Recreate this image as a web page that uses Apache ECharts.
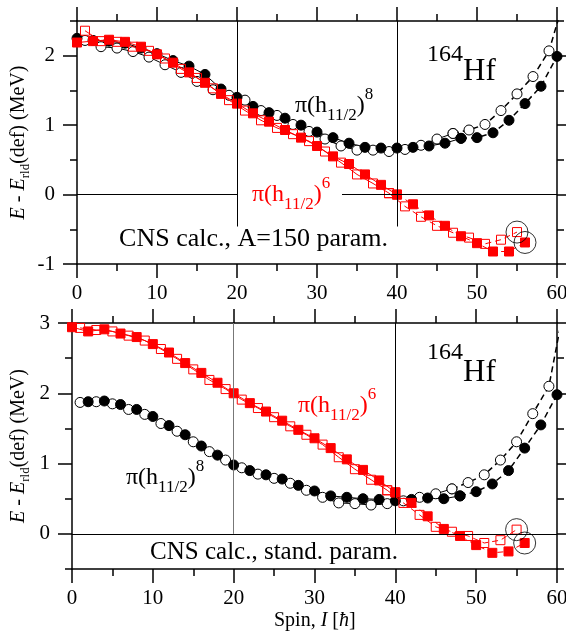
<!DOCTYPE html>
<html>
<head>
<meta charset="utf-8">
<script src="https://cdn.jsdelivr.net/npm/echarts@6/dist/echarts.min.js"></script>
<style>
  html, body { margin: 0; background: #fff; }
  #chart { width: 566px; height: 633px; }
</style>
</head>
<body>
<div id="chart"></div>
<script>
// spins (hbar)
const evenSpins = [0, 2, 4, 6, 8, 10, 12, 14, 16, 18, 20, 22, 24, 26, 28, 30, 32, 34, 36, 38, 40, 42, 44, 46, 48, 50, 52, 54, 56, 58, 60];
const oddSpins = [1, 3, 5, 7, 9, 11, 13, 15, 17, 19, 21, 23, 25, 27, 29, 31, 33, 35, 37, 39, 41, 43, 45, 47, 49, 51, 53, 55, 57, 59, 61];

// top panel: CNS calc., A=150 param.  (MeV)
const topBlackEven = [2.25, 2.22, 2.21, 2.18, 2.11, 2.03, 1.93, 1.85, 1.73, 1.52, 1.40, 1.27, 1.18, 1.10, 1.00, 0.90, 0.82, 0.74, 0.68, 0.67, 0.67, 0.68, 0.70, 0.74, 0.81, 0.82, 0.89, 1.07, 1.31, 1.56, 1.99];
const topBlackOdd = [2.22, 2.13, 2.11, 2.06, 1.98, 1.87, 1.76, 1.63, 1.51, 1.43, 1.36, 1.21, 1.14, 1.01, 0.91, 0.80, 0.70, 0.64, 0.64, 0.62, 0.65, 0.71, 0.80, 0.88, 0.93, 1.01, 1.21, 1.45, 1.70, 2.07, 2.85];
const topRedEven = [2.19, 2.21, 2.23, 2.20, 2.13, 2.02, 1.90, 1.76, 1.61, 1.45, 1.31, 1.17, 1.05, 0.93, 0.82, 0.70, 0.55, 0.44, 0.29, 0.14, 0.00, -0.14, -0.30, -0.45, -0.60, -0.70, -0.82, -0.82, -0.69];
const topRedOdd = [2.36, 2.21, 2.20, 2.13, 2.07, 1.96, 1.81, 1.68, 1.53, 1.36, 1.21, 1.07, 0.96, 0.87, 0.77, 0.62, 0.46, 0.29, 0.16, 0.02, -0.17, -0.32, -0.45, -0.55, -0.62, -0.71, -0.65, -0.54];

// bottom panel: CNS calc., stand. param.  (MeV)
const botBlackEven = [1.88, 1.89, 1.84, 1.77, 1.67, 1.54, 1.41, 1.25, 1.12, 0.98, 0.90, 0.84, 0.78, 0.69, 0.61, 0.54, 0.52, 0.50, 0.49, 0.47, 0.49, 0.51, 0.50, 0.54, 0.60, 0.71, 0.90, 1.22, 1.55, 1.98];
const botBlackOdd = [1.87, 1.88, 1.85, 1.77, 1.70, 1.57, 1.46, 1.31, 1.17, 1.05, 0.94, 0.85, 0.79, 0.72, 0.62, 0.52, 0.44, 0.43, 0.41, 0.43, 0.47, 0.52, 0.57, 0.64, 0.73, 0.84, 1.05, 1.31, 1.71, 2.10, 3.30];
const botRedEven = [2.94, 2.88, 2.91, 2.85, 2.80, 2.70, 2.58, 2.43, 2.29, 2.15, 2.00, 1.86, 1.74, 1.61, 1.48, 1.36, 1.22, 1.06, 0.91, 0.76, 0.59, 0.44, 0.25, 0.07, -0.03, -0.16, -0.27, -0.25, -0.13];
const botRedOdd = [2.93, 2.90, 2.88, 2.82, 2.75, 2.63, 2.49, 2.34, 2.19, 2.06, 1.91, 1.79, 1.66, 1.53, 1.41, 1.27, 1.09, 0.92, 0.77, 0.62, 0.44, 0.27, 0.10, 0.03, -0.03, -0.13, -0.09, 0.06];

const xTicks = [0, 60, 10];
const yRanges = [[-1, 2.5], [-0.5, 3]];
const yMajors = [[-1, 0, 1, 2], [0, 1, 2, 3]];
const circledSpins = [55, 56];

const family = "Liberation Serif";
const RED = "#ff0000";
const AXIS_W = 1.5;

function pairs(spins, values) {
  return values.map((v, i) => [spins[i], v]);
}

const looks = {
  blackFilled: { symbol: "circle", size: 10, line: "#000", fill: "#000", z: 3 },
  blackOpen: { symbol: "circle", size: 10, line: "#000", fill: "#fff", z: 3 },
  redFilled: { symbol: "rect", size: 9, line: RED, fill: RED, z: 4 },
  redOpen: { symbol: "rect", size: 9, line: RED, fill: "rgba(255,255,255,0)", z: 4 },
};

// one signature: solid up to `cut`, dashed afterwards
function track(g, data, look, cut, dashWidth) {
  const solid = data.filter((d) => d[0] <= cut);
  const tail = data.filter((d) => d[0] >= solid[solid.length - 1][0]);
  const common = {
    type: "line",
    xAxisIndex: 2 * g,
    yAxisIndex: 4 * g,
    symbol: look.symbol,
    symbolSize: look.size,
    showSymbol: true,
    clip: true,
    silent: true,
    z: look.z,
    itemStyle: { color: look.fill, borderColor: look.line, borderWidth: 1 },
  };
  return [
    { ...common, data: solid, lineStyle: { color: look.line, width: 1 } },
    { ...common, data: tail, lineStyle: { color: look.line, width: dashWidth, type: [6, 4] } },
  ];
}

function guides(g, lines) {
  return {
    type: "line",
    xAxisIndex: 2 * g,
    yAxisIndex: 4 * g,
    data: [],
    z: 1,
    markLine: {
      silent: true,
      symbol: ["none", "none"],
      label: { show: false },
      lineStyle: { color: "#000", width: 1, type: "solid" },
      data: lines,
    },
  };
}

function circled(g, redOdd, redEven) {
  const pts = redOdd.concat(redEven).filter((d) => circledSpins.includes(d[0]));
  return {
    type: "scatter",
    xAxisIndex: 2 * g,
    yAxisIndex: 4 * g,
    data: pts,
    symbol: "circle",
    symbolSize: 22,
    silent: true,
    z: 5,
    itemStyle: { color: "rgba(0,0,0,0)", borderColor: "#000", borderWidth: 1 },
  };
}

function xAxes(g) {
  const base = {
    type: "value",
    gridIndex: g,
    min: xTicks[0],
    max: xTicks[1],
    interval: xTicks[2],
    splitLine: { show: false },
    axisLine: { onZero: false, lineStyle: { color: "#000", width: AXIS_W } },
    axisTick: { length: 14, lineStyle: { color: "#000", width: AXIS_W } },
    minorTick: { show: true, splitNumber: 2, length: 7, lineStyle: { color: "#000", width: AXIS_W } },
  };
  return [
    { ...base, position: "bottom", axisLabel: { fontFamily: family, fontSize: 21, color: "#000", margin: 19 } },
    { ...base, position: "top", axisLabel: { show: false } },
  ];
}

function yAxes(g) {
  const [min, max] = yRanges[g];
  const base = {
    type: "value",
    gridIndex: g,
    min,
    max,
    interval: 0.5,
    splitLine: { show: false },
    axisLine: { onZero: false, lineStyle: { color: "#000", width: AXIS_W } },
    axisTick: { length: 7, lineStyle: { color: "#000", width: AXIS_W } },
  };
  const major = {
    ...base,
    axisLine: { show: false, onZero: false },
    axisTick: { length: 14, customValues: yMajors[g], lineStyle: { color: "#000", width: AXIS_W } },
    axisLabel: { show: false },
  };
  return [
    {
      ...base,
      position: "left",
      axisLabel: {
        fontFamily: family,
        fontSize: 21,
        color: "#000",
        margin: 22,
        formatter: (v) => (Number.isInteger(v) ? String(v) : ""),
      },
    },
    { ...major, position: "left" },
    { ...base, position: "right", axisLabel: { show: false } },
    { ...major, position: "right" },
  ];
}

// text made of pieces (sub/superscripts), laid out left to right
const measure = document.createElement("canvas").getContext("2d");
function pieces(list, color) {
  let cx = 0;
  const kids = list.map((p) => {
    measure.font = (p.it ? "italic " : "") + p.s + "px '" + family + "'";
    const el = {
      type: "text",
      x: cx,
      y: (p.dy || 0) - 0.3 * p.s,
      z: 60,
      silent: true,
      style: {
        text: p.t,
        fontFamily: family,
        fontSize: p.s,
        fontStyle: p.it ? "italic" : "normal",
        fill: color,
        align: "left",
        verticalAlign: "middle",
      },
    };
    cx += measure.measureText(p.t).width;
    return el;
  });
  return { kids, width: cx };
}
function label(x, baseline, list, color, centered) {
  const { kids, width } = pieces(list, color);
  return { type: "group", x: centered ? x - width / 2 : x, y: baseline, children: kids };
}
function yTitle(baselineX, centerY) {
  const { kids, width } = pieces(
    [
      { t: "E", s: 20, it: true },
      { t: " - ", s: 20 },
      { t: "E", s: 20, it: true },
      { t: "rld", s: 13, dy: 4 },
      { t: "(def) (MeV)", s: 20 },
    ],
    "#000"
  );
  kids.forEach((k) => (k.x -= width / 2));
  return { type: "group", x: baselineX, y: centerY, rotation: Math.PI / 2, children: kids };
}
function pi(n) {
  return [
    { t: "π(h", s: 24 },
    { t: "11/2", s: 17, dy: 8 },
    { t: ")", s: 24 },
    { t: n, s: 17, dy: -13 },
  ];
}
function hf(dy) {
  return [
    { t: "164", s: 24, dy },
    { t: "Hf", s: 31 },
  ];
}

const topData = {
  bE: pairs(evenSpins, topBlackEven),
  bO: pairs(oddSpins, topBlackOdd),
  rE: pairs(evenSpins, topRedEven),
  rO: pairs(oddSpins, topRedOdd),
};
const botData = {
  bE: pairs(evenSpins.slice(1), botBlackEven),
  bO: pairs(oddSpins, botBlackOdd),
  rE: pairs(evenSpins, botRedEven),
  rO: pairs(oddSpins, botRedOdd),
};

const series = [
  guides(0, [
    [{ coord: [0, 0] }, { coord: [60, 0] }],
    [{ coord: [20, 2.5] }, { coord: [20, -0.46] }],
    [{ coord: [40, 2.5] }, { coord: [40, -0.46] }],
  ]),
  ...track(0, topData.bO, looks.blackOpen, 47, 1.5),
  ...track(0, topData.bE, looks.blackFilled, 48, 1.5),
  ...track(0, topData.rO, looks.redOpen, 40, 1),
  ...track(0, topData.rE, looks.redFilled, 40, 1),
  circled(0, topData.rO, topData.rE),

  guides(1, [
    [{ coord: [0, 0] }, { coord: [60, 0] }],
    [{ coord: [20, 3], lineStyle: { color: "#777" } }, { coord: [20, 0] }],
    [{ coord: [40, 3] }, { coord: [40, 0] }],
  ]),
  ...track(1, botData.bO, looks.blackOpen, 47, 1.5),
  ...track(1, botData.bE, looks.blackFilled, 48, 1.5),
  ...track(1, botData.rO, looks.redOpen, 40, 1),
  ...track(1, botData.rE, looks.redFilled, 40, 1),
  circled(1, botData.rO, botData.rE),
];

const chart = echarts.init(document.getElementById("chart"));
chart.setOption({
  animation: false,
  backgroundColor: "#fff",
  grid: [
    { left: 77, right: 9, top: 21, height: 243, outerBoundsMode: "none" },
    { left: 72, right: 9, top: 323, height: 246, outerBoundsMode: "none" },
  ],
  xAxis: [...xAxes(0), ...xAxes(1)],
  yAxis: [...yAxes(0), ...yAxes(1)],
  series,
  graphic: [
    // white box that breaks the zero line behind the red label
    { type: "rect", shape: { x: 238, y: 172, width: 104, height: 40 }, style: { fill: "#fff" }, z: 55, silent: true },
    label(295, 113, pi("8"), "#000"),
    label(252, 202, pi("6"), RED),
    label(427, 81, hf(-19), "#000"),
    label(253.5, 247, [{ t: "CNS calc., A=150 param.", s: 26 }], "#000", true),

    label(298, 413, pi("6"), RED),
    label(126, 485, pi("8"), "#000"),
    label(427, 382, hf(-22), "#000"),
    label(274, 560, [{ t: "CNS calc., stand. param.", s: 25 }], "#000", true),

    yTitle(25, 142.5),
    yTitle(25, 446),
    label(
      314.8,
      627,
      [
        { t: "Spin, ", s: 20 },
        { t: "I", s: 20, it: true },
        { t: " [", s: 20 },
        { t: "ħ", s: 20, it: true },
        { t: "]", s: 20 },
      ],
      "#000",
      true
    ),
  ],
});
</script>
</body>
</html>
